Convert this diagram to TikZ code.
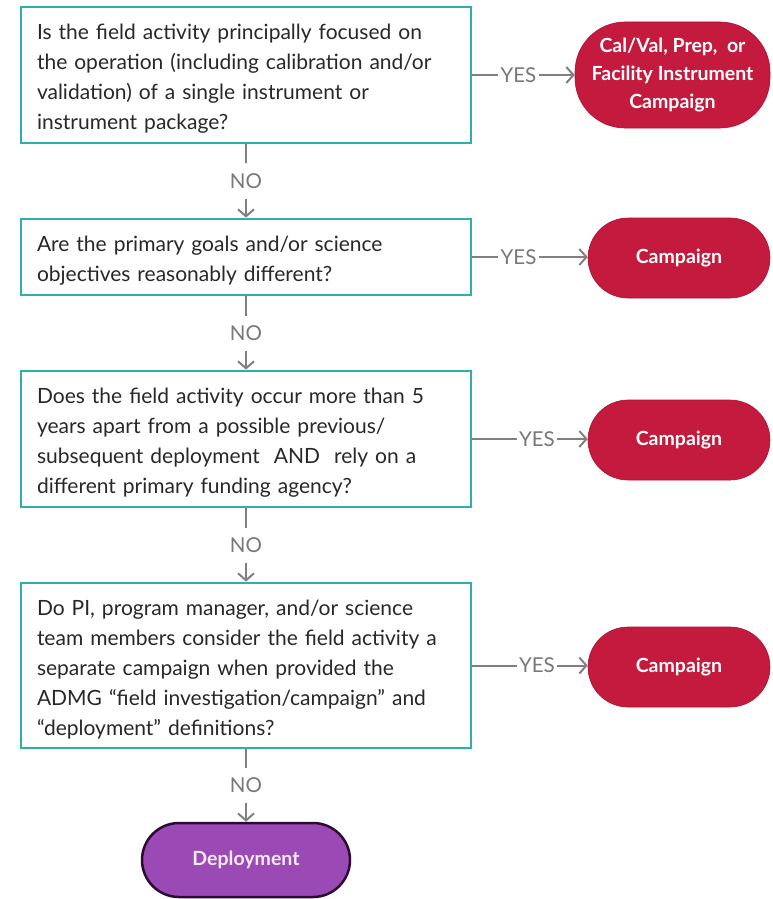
\documentclass[tikz,border=0pt]{standalone}
\usepackage{fontspec}
\setmainfont{Lato}
\usetikzlibrary{arrows.meta}
\definecolor{boxteal}{RGB}{44,176,174}
\definecolor{qtext}{RGB}{40,40,40}
\definecolor{conngray}{RGB}{128,128,128}
\definecolor{lblgray}{RGB}{120,120,120}
\definecolor{crimson}{RGB}{196,26,62}
\definecolor{crimsondark}{RGB}{170,20,50}
\definecolor{purplefill}{RGB}{155,74,181}
\definecolor{purpleedge}{RGB}{45,10,50}
\definecolor{purpletext}{RGB}{245,235,248}
\newcommand{\qboxend}{\endgraf\vspace*{-8pt}}
\begin{document}
\begin{tikzpicture}[x=1pt,y=-1pt,
  question/.style={draw=boxteal, line width=2.8pt, fill=white, text=qtext,
    text width=418pt, align=left, inner xsep=16pt, inner ysep=0pt,
    minimum width=450pt, font=\fontsize{21}{30}\selectfont,
    execute at end node=\qboxend},
  result/.style={fill=crimson, draw=crimsondark, line width=0.6pt, text=white,
    align=center, inner sep=0pt, font=\bfseries\fontsize{19.5}{28}\selectfont},
  final/.style={fill=purplefill, draw=purpleedge, line width=2.5pt, text=purpletext,
    align=center, inner sep=0pt, font=\bfseries\fontsize{19.5}{28}\selectfont},
  conn/.style={draw=conngray, line width=2pt, -{Straight Barb[length=7pt,width=16pt]}},
  yeslbl/.style={fill=white, text=lblgray, inner xsep=2.5pt, inner ysep=2pt,
    font=\fontsize{20.5}{22}\selectfont},
  nolbl/.style={fill=white, text=lblgray, inner xsep=2pt, inner ysep=10pt,
    font=\fontsize{20.5}{22}\selectfont}
]
\useasboundingbox (0,0) rectangle (772,899);

% questions
\node[question, minimum height=136pt] (q1) at (246,75)
  {Is the field activity principally focused on\\
   the operation (including calibration and/or\\
   validation) of a single instrument or\\
   instrument package?};
\node[question, minimum height=76pt] (q2) at (246,257)
  {Are the primary goals and/or science\\
   objectives reasonably different?};
\node[question, minimum height=136pt] (q3) at (246,439)
  {Does the field activity occur more than 5\\
   years apart from a possible previous/\\
   subsequent deployment\ \ AND\ \ rely on a\\
   different primary funding agency?};
\node[question, minimum height=165pt] (q4) at (246,665.5)
  {Do PI, program manager, and/or science\\
   team members consider the field activity a\\
   separate campaign when provided the\\
   ADMG “field investigation/campaign” and\\
   “deployment” definitions?};

% results
\node[result, minimum width=195pt, minimum height=106pt, rounded corners=50pt] (r1) at (672.5,75)
  {Cal/Val, Prep,\ \ or\\ Facility Instrument\\ Campaign};
\node[result, minimum width=182pt, minimum height=80pt, rounded corners=40pt] (r2) at (679,258) {Campaign};
\node[result, minimum width=182pt, minimum height=80pt, rounded corners=40pt] (r3) at (679,440) {Campaign};
\node[result, minimum width=182pt, minimum height=80pt, rounded corners=40pt] (r4) at (679,667) {Campaign};
\node[final, minimum width=208pt, minimum height=74pt, rounded corners=37pt] (dep) at (246,860) {Deployment};

% YES connectors
\draw[conn] (q1.east) -- node[yeslbl, pos=0.45] (y1) {YES} (q1.east -| r1.west);
\draw[conn] (q2.east) -- node[yeslbl, pos=0.40] (y2) {YES} (q2.east -| r2.west);
\draw[conn] (q3.east) -- node[yeslbl, pos=0.56] (y3) {YES} (q3.east -| r3.west);
\draw[conn] (q4.east) -- node[yeslbl, pos=0.56] (y4) {YES} (q4.east -| r4.west);

% NO connectors
\draw[conn] (q1.south) -- node[nolbl] (n1) {NO} (q2.north);
\draw[conn] (q2.south) -- node[nolbl] (n2) {NO} (q3.north);
\draw[conn] (q3.south) -- node[nolbl] (n3) {NO} (q4.north);
\draw[conn] (q4.south) -- node[nolbl] (n4) {NO} (dep.north);
\end{tikzpicture}
\end{document}
